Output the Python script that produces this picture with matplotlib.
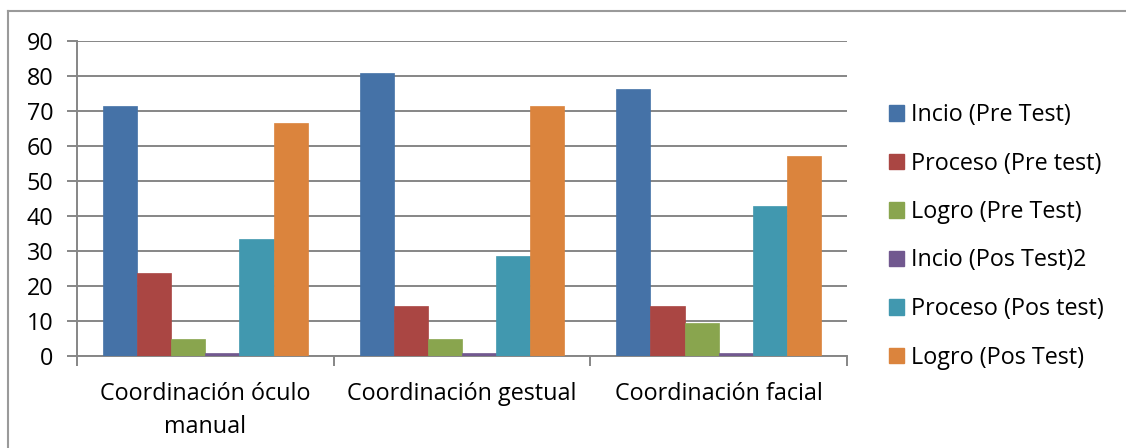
import matplotlib
matplotlib.use("Agg")
import matplotlib.pyplot as plt
import numpy as np
from matplotlib.lines import Line2D
from matplotlib.patches import Patch

categories = ["Coordinación óculo\nmanual", "Coordinación gestual", "Coordinación facial"]
series_names = ["Incio (Pre Test)", "Proceso (Pre test)", "Logro (Pre Test)",
                "Incio (Pos Test)2", "Proceso (Pos test)", "Logro (Pos Test)"]
incio_pre = [71.4, 81.0, 76.2]
proceso_pre = [23.8, 14.3, 14.3]
logro_pre = [4.8, 4.8, 9.5]
incio_pos = [1.0, 1.0, 1.0]
proceso_pos = [33.3, 28.6, 42.9]
logro_pos = [66.7, 71.4, 57.1]
colors = ["#4572A7", "#AA4643", "#89A54E", "#71588F", "#4198AF", "#DB843D"]

plt.rcParams['font.family'] = ['Open Sans', 'DejaVu Sans']
fs = 16.8

fig = plt.figure(figsize=(11.26, 4.48), dpi=100)
ax = fig.add_axes([77 / 1126, 1 - 356 / 448, (847 - 77) / 1126, (356 - 41) / 448])

series = [incio_pre, proceso_pre, logro_pre, incio_pos, proceso_pos, logro_pos]
x = np.arange(len(categories))
w = 0.133
for i, vals in enumerate(series):
    ax.bar(x + (i - 2.5) * w, vals, width=w, color=colors[i], zorder=3,
           edgecolor=colors[i], linewidth=0.5)

ax.set_xlim(-0.5, 2.5)
ax.set_ylim(0, 90)
ax.set_yticks(np.arange(0, 91, 10))
ax.grid(axis='y', color='#868686', linewidth=1.4, zorder=0)
ax.set_axisbelow(True)

ax.set_xticks(x)
ax.set_xticklabels(categories, fontsize=fs, linespacing=1.5)
ax.set_xticks([-0.5, 0.5, 1.5, 2.5], minor=True)
ax.tick_params(axis='x', which='major', length=0, pad=19)
ax.tick_params(axis='x', which='minor', length=7, width=1.4, color='#868686')
ax.tick_params(axis='y', length=7, width=1.4, color='#868686', labelsize=fs, pad=10)

for s in ['top', 'right']:
    ax.spines[s].set_visible(False)
for s in ['left', 'bottom']:
    ax.spines[s].set_color('#868686')
    ax.spines[s].set_linewidth(1.4)

handles = [Patch(facecolor=c, edgecolor=c) for c in colors]
fig.legend(handles, series_names, loc='upper left',
           bbox_to_anchor=(889 / 1126, 1 - 103 / 448), frameon=False,
           fontsize=fs, handlelength=0.65, handleheight=0.65, handletextpad=0.3,
           labelspacing=1.05, borderpad=0, borderaxespad=0)

# outer chart border (top and left edges visible)
fig.add_artist(Line2D([8 / 1126, 1], [1 - 11 / 448, 1 - 11 / 448], color='#9a9a9a', linewidth=1.5,
                      transform=fig.transFigure))
fig.add_artist(Line2D([8 / 1126, 8 / 1126], [0, 1 - 11 / 448], color='#9a9a9a', linewidth=1.5,
                      transform=fig.transFigure))

fig.savefig("out.png", dpi=100)
